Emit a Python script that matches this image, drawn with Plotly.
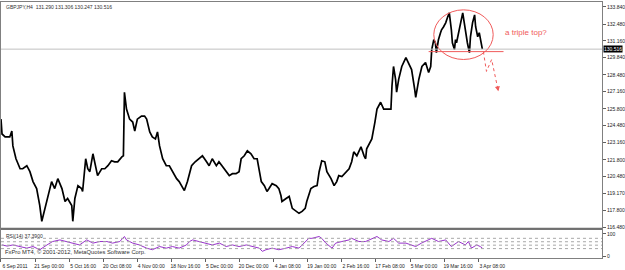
import plotly.graph_objects as go

# ---------------- data ----------------
# H4 bar index (time axis) and price of GBPJPY
bar_idx = [0, 2, 8, 17, 21, 23, 29, 37, 42, 50, 56, 62, 69, 75, 79, 85, 91, 98, 104, 110,
           118, 124, 129, 137, 139, 143, 149, 156, 158, 164, 168, 172, 178, 181, 187, 195, 201, 207, 214, 220,
           226, 234, 237, 239, 243, 249, 255, 259, 264, 272, 278, 282, 288, 293, 299, 303, 307, 313, 320, 326,
           332, 340, 345, 355, 361, 369, 376, 384, 390, 398, 403, 409, 417, 422, 428, 436, 442, 448, 455, 461,
           465, 471, 477, 484, 490, 496, 500, 504, 510, 515, 519, 525, 533, 538, 542, 544, 552, 558, 564, 571,
           577, 583, 589, 592, 600, 606, 612, 616, 621, 627, 631, 639, 645, 650, 654, 660, 668, 674, 679, 683,
           689, 697, 703, 706, 708, 716, 718, 724, 728, 735, 741, 747, 755, 757, 760, 764, 766, 770, 776, 784,
           789, 795, 801, 803, 809, 815, 822, 828, 832, 834, 838, 841, 843, 847, 851, 853, 857, 861, 865, 868,
           872, 874, 878, 880, 882, 886, 890, 894, 897, 901, 903, 907, 909, 913, 917, 919, 923, 926, 928, 930,
           932]
price = [125.00, 123.83, 123.60, 123.60, 124.07, 122.89, 121.88, 121.09, 121.09, 121.33, 120.86, 120.08, 119.53, 118.20, 116.95, 117.97, 118.75, 120.08, 119.53, 120.31,
         119.53, 118.51, 118.75, 118.20, 116.95, 118.75, 119.76, 119.53, 119.30, 121.88, 121.09, 120.86, 122.27, 121.64, 120.55, 121.09, 121.09, 121.33, 121.72, 121.64,
         121.64, 122.03, 122.11, 127.12, 125.79, 125.00, 124.77, 124.07, 125.00, 125.24, 125.24, 125.00, 123.99, 123.60, 123.44, 123.99, 122.89, 121.88, 121.33, 121.33,
         120.86, 120.31, 120.08, 119.37, 120.08, 121.33, 121.64, 121.88, 122.11, 121.64, 121.33, 121.88, 121.33, 121.64, 121.33, 120.86, 120.55, 120.70, 120.70, 120.86,
         121.88, 122.11, 122.50, 122.27, 121.88, 121.88, 121.09, 120.08, 119.76, 119.30, 119.53, 119.92, 119.76, 119.53, 118.98, 118.51, 118.75, 118.91, 117.97, 117.73,
         117.58, 117.73, 117.97, 118.51, 119.53, 119.69, 119.76, 120.86, 121.72, 121.64, 120.86, 120.31, 119.76, 120.08, 120.55, 120.47, 120.86, 121.09, 121.64, 122.42,
         122.11, 122.82, 122.11, 121.88, 122.66, 123.21, 123.44, 124.77, 125.79, 126.33, 125.79, 125.79, 125.79, 127.59, 129.15, 128.13, 127.12, 128.13, 129.15, 129.85,
         129.46, 128.91, 127.35, 126.72, 128.13, 129.15, 129.46, 128.68, 129.15, 130.48, 131.26, 131.02, 130.24, 131.26, 131.81, 132.04, 132.28, 132.59, 133.06, 133.37,
         132.04, 131.02, 130.48, 131.26, 131.02, 131.81, 132.82, 133.37, 132.59, 131.49, 131.02, 130.24, 131.49, 132.59, 133.21, 132.28, 131.49, 131.81, 131.26, 130.71,
         130.52]

# RSI(14)
rsi_bar = [2, 12, 23, 37, 50, 62, 75, 89, 100, 114, 127, 139, 152, 166, 178, 191, 205, 216, 230, 239,
           243, 255, 268, 282, 293, 307, 320, 332, 345, 359, 365, 371, 384, 398, 409, 423, 436, 448, 461, 475,
           486, 500, 506, 513, 525, 538, 552, 564, 577, 591, 596, 602, 616, 621, 629, 641, 648, 660, 674, 679,
           693, 706, 718, 728, 737, 751, 760, 770, 784, 795, 803, 814, 828, 834, 847, 861, 872, 886, 899, 905,
           911, 921, 928, 932]
rsi_val = [51, 46, 51, 44, 37, 44, 30, 51, 66, 73, 66, 59, 51, 73, 59, 66, 66, 59, 66, 88,
           73, 59, 51, 37, 30, 44, 37, 44, 37, 51, 66, 73, 66, 59, 51, 59, 44, 51, 44, 51,
           44, 37, 23, 30, 37, 30, 37, 44, 37, 66, 80, 80, 88, 80, 59, 37, 59, 66, 73, 80,
           66, 66, 80, 88, 73, 66, 80, 59, 59, 51, 44, 59, 73, 80, 66, 73, 44, 66, 51, 66,
           37, 51, 44, 37.39]
rsi_levels = [80, 65, 50, 35]

price_ticks = [133.84, 132.48, 131.16, 129.84, 128.48, 127.16, 125.80, 124.48,
               123.16, 121.80, 120.48, 119.17, 117.80, 116.48]
time_tick_bars = [0, 66, 132, 198, 264, 330, 396, 462, 528, 594, 660, 726, 792, 858, 924]
time_tick_labels = ["6 Sep 2011", "21 Sep 00:00", "5 Oct 16:00", "20 Oct 08:00", "4 Nov 00:00",
                    "18 Nov 16:00", "5 Dec 00:00", "20 Dec 00:00", "4 Jan 08:00", "19 Jan 00:00",
                    "2 Feb 16:00", "17 Feb 08:00", "5 Mar 00:00", "19 Mar 16:00", "3 Apr 08:00"]
last_price = 130.516
header = "GBPJPY,H4  131.290 131.306 130.247 130.516"
rsi_header = "RSI(14) 37.3900"

# hand-drawn annotation (in bar / price units)
ell_x = [838, 953]
ell_y = [129.70, 133.61]
neck_x = [828, 973]
neck_y = 130.32
arrow_x = [934, 940, 950, 963]
arrow_y = [130.32, 128.76, 129.70, 127.19]

# ---------------- figure ----------------
W, H = 625, 270
FONT = "Liberation Sans"
RED = "#f05a5a"

def py(p):
    return 1 - p / H

fig = go.Figure()
fig.add_trace(go.Scatter(x=bar_idx, y=price, mode="lines",
                         line=dict(color="black", width=1.7), xaxis="x", yaxis="y",
                         hoverinfo="skip", showlegend=False))
fig.add_trace(go.Scatter(x=rsi_bar, y=rsi_val, mode="lines",
                         line=dict(color="#9932cc", width=1), xaxis="x2", yaxis="y2",
                         hoverinfo="skip", showlegend=False))
fig.add_trace(go.Scatter(x=arrow_x, y=arrow_y, mode="lines",
                         line=dict(color=RED, width=1, dash="dot"), xaxis="x", yaxis="y",
                         hoverinfo="skip", showlegend=False))

xr = [0, 1163.8]
dom_x = [1 / W, 604 / W]
fig.update_layout(
    width=W, height=H, autosize=False,
    margin=dict(l=0, r=0, t=0, b=0),
    paper_bgcolor="white", plot_bgcolor="white",
    font=dict(family=FONT, size=5, color="#202020"),
    xaxis=dict(domain=dom_x, range=xr, anchor="y", showticklabels=False, ticks="",
               showgrid=False, zeroline=False, showline=True, mirror=True,
               linecolor="#808080", linewidth=1),
    xaxis2=dict(domain=dom_x, range=xr, anchor="y2", matches="x", showgrid=False, zeroline=False,
                showline=True, mirror=True, linecolor="#808080", linewidth=1,
                tickmode="array", tickvals=time_tick_bars, ticktext=time_tick_labels,
                ticks="outside", ticklen=3, tickcolor="#606060", ticklabelshift=14,
                ticklabelstandoff=0, tickfont=dict(size=5, family=FONT, color="#202020")),
    yaxis=dict(domain=[py(230), py(2)], range=[116.40, 134.23], anchor="x", side="right",
               showgrid=False, zeroline=False, showline=True, mirror=True,
               linecolor="#808080", linewidth=1,
               tickmode="array", tickvals=price_ticks, ticktext=[f"{v:.3f}" for v in price_ticks],
               ticks="outside", ticklen=3, tickcolor="#606060", ticklabelstandoff=0,
               tickfont=dict(size=5, family=FONT, color="#202020")),
    yaxis2=dict(domain=[py(260), py(232)], range=[-6.5, 115.2], anchor="x2", side="right",
                showgrid=False, zeroline=False, showline=True, mirror=True,
                linecolor="#808080", linewidth=1,
                tickmode="array", tickvals=[0, 100], ticktext=["0", "100"],
                ticks="outside", ticklen=3, tickcolor="#606060", ticklabelstandoff=0,
                tickfont=dict(size=5, family=FONT, color="#202020")),
)

shapes = []
# separator between panels
shapes.append(dict(type="line", xref="paper", yref="paper", x0=1 / W, x1=604 / W,
                   y0=py(230.5), y1=py(230.5), line=dict(color="#707070", width=2)))
# bid line
shapes.append(dict(type="line", xref="x domain", yref="y", x0=0, x1=1,
                   y0=last_price, y1=last_price, line=dict(color="#c0c0c0", width=1)))
# RSI levels
for lv in rsi_levels:
    shapes.append(dict(type="line", xref="x2 domain", yref="y2", x0=0, x1=1, y0=lv, y1=lv,
                       line=dict(color="#a8a8a8", width=1, dash="dot")))
# ellipse and neckline
shapes.append(dict(type="circle", xref="x", yref="y", x0=ell_x[0], x1=ell_x[1],
                   y0=ell_y[0], y1=ell_y[1], line=dict(color=RED, width=1)))
shapes.append(dict(type="line", xref="x", yref="y", x0=neck_x[0], x1=neck_x[1],
                   y0=neck_y, y1=neck_y, line=dict(color=RED, width=1)))
fig.update_layout(shapes=shapes)

ann = []
ann.append(dict(xref="paper", yref="paper", x=4 / W, y=py(7), text=header, showarrow=False,
                xanchor="left", yanchor="middle", font=dict(size=5, family=FONT, color="#303030")))
ann.append(dict(xref="paper", yref="paper", x=4 / W, y=py(237.5), text=rsi_header, showarrow=False,
                xanchor="left", yanchor="middle", font=dict(size=5, family=FONT, color="#303030")))
ann.append(dict(xref="paper", yref="paper", x=3 / W, y=py(253.5),
                text="FxPro MT4, © 2001-2012, MetaQuotes Software Corp.", showarrow=False,
                xanchor="left", yanchor="middle", font=dict(size=5.8, family=FONT, color="#303030")))
ann.append(dict(xref="paper", yref="y", x=605 / W, y=last_price, text=f"{last_price:.3f}",
                showarrow=False, xanchor="left", yanchor="middle", bgcolor="black",
                borderpad=0, font=dict(size=5, family=FONT, color="white")))
ann.append(dict(xref="paper", yref="paper", x=505 / W, y=py(33), text="a triple top?",
                showarrow=False, xanchor="left", yanchor="middle",
                font=dict(size=8, family=FONT, color=RED)))
ann.append(dict(xref="x", yref="y", x=arrow_x[-1], y=arrow_y[-1], axref="x", ayref="y",
                ax=arrow_x[-1] - 1.6, ay=arrow_y[-1] + 0.32, text="", showarrow=True,
                arrowhead=2, arrowsize=1, arrowwidth=1, arrowcolor=RED))
fig.update_layout(annotations=ann)

fig.write_html("out.html")
